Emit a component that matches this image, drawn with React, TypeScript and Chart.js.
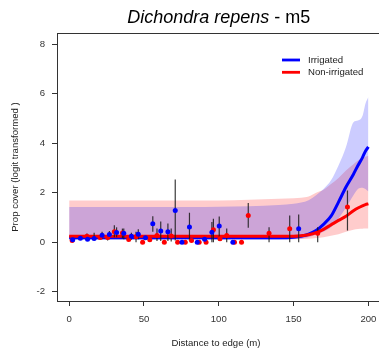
import { useEffect, useRef } from "react";
import { Chart, registerables } from "chart.js";

Chart.register(...registerables);

const FONT = '"Liberation Sans", Arial, Helvetica, sans-serif';

const xTicks = [0, 50, 100, 150, 200];
const yTicks = [-2, 0, 2, 4, 6, 8];

// Observed points – Irrigated (blue)
const blueX = [2.4, 7.5, 12.3, 16.7, 22.0, 26.9, 31.7, 36.5, 41.6, 46.2, 51.0, 55.9, 61.2, 66.0, 70.9, 75.4, 80.4, 85.6, 90.5, 95.4, 100.3, 109.4, 153.4];
const blueY = [0.10, 0.16, 0.12, 0.15, 0.28, 0.31, 0.39, 0.36, 0.24, 0.32, 0.18, 0.74, 0.45, 0.42, 1.28, 0.0, 0.61, 0.0, 0.12, 0.40, 0.65, 0.0, 0.54];
const blueLo = [null, null, null, 0.07, 0.12, 0.12, 0.2, 0.12, 0.1, 0.12, null, 0.42, 0.05, 0.05, 0.07, null, 0.04, null, null, 0.0, 0.07, null, 0.0];
const blueHi = [null, null, null, 0.38, 0.42, 0.45, 0.6, 0.55, 0.38, 0.52, null, 1.05, 0.84, 0.75, 2.53, null, 1.19, null, null, 0.82, 1.04, null, 1.12];

// Observed points – Non-irrigated (red)
const redX = [2.0, 11.9, 20.7, 25.7, 30.2, 35.6, 39.8, 44.7, 49.1, 53.9, 58.7, 63.6, 68.2, 72.5, 77.6, 81.8, 86.9, 91.5, 96.4, 100.8, 105.3, 110.5, 115.2, 119.7, 133.6, 147.4, 166.1, 186.0];
const redY = [0.07, 0.24, 0.19, 0.19, 0.42, 0.37, 0.11, 0.22, 0.0, 0.10, 0.27, 0.0, 0.25, 0.0, 0.0, 0.07, 0.0, 0.0, 0.50, 0.14, 0.27, 0.0, 0.0, 1.08, 0.36, 0.54, 0.36, 1.42];
const redLo = [null, 0.12, null, 0.07, 0.2, 0.15, null, 0.0, null, null, 0.05, null, 0.03, null, null, null, null, null, 0.0, null, 0.0, null, null, 0.58, 0.0, 0.0, 0.0, 0.47];
const redHi = [null, 0.35, null, 0.30, 0.68, 0.55, null, 0.42, null, null, 0.55, null, 0.55, null, null, null, null, null, 0.95, null, 0.55, null, null, 1.58, 0.60, 1.08, 0.60, 2.09];

// Fitted curves and confidence bands
const curveX = [0, 20, 40, 60, 80, 100, 120, 140, 150, 155, 160, 165, 170, 175, 180, 185, 190, 193, 196, 198, 200];
const blueFit = [0.18, 0.18, 0.18, 0.18, 0.18, 0.18, 0.18, 0.18, 0.2, 0.24, 0.32, 0.47, 0.72, 1.05, 1.62, 2.23, 2.75, 3.1, 3.42, 3.68, 3.85];
const blueUpper = [1.42, 1.42, 1.42, 1.42, 1.42, 1.43, 1.45, 1.5, 1.55, 1.6, 1.7, 1.9, 2.15, 2.5, 3.1, 3.85, 4.85, 4.92, 5.1, 5.6, 5.87];
const blueLower = [0.1, 0.1, 0.1, 0.1, 0.1, 0.1, 0.1, 0.1, 0.12, 0.14, 0.2, 0.3, 0.42, 0.6, 0.95, 1.4, 1.9, 2.15, 2.2, 2.15, 2.05];
const redFit = [0.24, 0.24, 0.24, 0.24, 0.24, 0.24, 0.24, 0.24, 0.24, 0.26, 0.3, 0.38, 0.52, 0.7, 0.88, 1.05, 1.27, 1.38, 1.47, 1.52, 1.55];
const redUpper = [1.69, 1.69, 1.69, 1.69, 1.69, 1.69, 1.72, 1.76, 1.78, 1.8, 1.85, 2.0, 2.12, 2.35, 2.6, 2.9, 3.15, 3.3, 3.4, 3.45, 3.5];
const redLower = [0.12, 0.12, 0.12, 0.12, 0.12, 0.12, 0.12, 0.12, 0.12, 0.13, 0.14, 0.17, 0.2, 0.26, 0.32, 0.42, 0.5, 0.53, 0.54, 0.55, 0.55];

const seriesNames = ["Irrigated", "Non-irrigated"];
const titleItalic = "Dichondra repens";
const titleRest = " - m5";
const xTitle = "Distance to edge (m)";
const yTitle = "Prop cover (logit transformed )";

const BLUE = "#0000ff";
const RED = "#ff0000";

export default function App() {
  const ref = useRef<HTMLCanvasElement>(null);

  useEffect(() => {
    const canvas = ref.current;
    if (!canvas) return;
    const xy = (xs: number[], ys: number[]) => xs.map((x, i) => ({ x, y: ys[i] }));

    const errPlugin = {
      id: "errbars",
      beforeDatasetDraw(chart: any, args: any) {
        if (args.index !== 1) return;
        const { ctx, scales } = chart;
        const sx = scales.x;
        const sy = scales.y;
        ctx.save();
        ctx.strokeStyle = "rgba(25,25,25,0.85)";
        ctx.lineWidth = 1.2;
        const draw = (xs: number[], lo: (number | null)[], hi: (number | null)[]) => {
          xs.forEach((v, i) => {
            if (lo[i] == null || hi[i] == null) return;
            const px = sx.getPixelForValue(v);
            ctx.beginPath();
            ctx.moveTo(px, sy.getPixelForValue(lo[i]));
            ctx.lineTo(px, sy.getPixelForValue(hi[i]));
            ctx.stroke();
          });
        };
        draw(blueX, blueLo, blueHi);
        draw(redX, redLo, redHi);
        ctx.restore();
      },
    };

    const decorPlugin = {
      id: "decor",
      afterDraw(chart: any) {
        const { ctx, chartArea, scales } = chart;
        ctx.save();
        // box
        ctx.strokeStyle = "#333";
        ctx.lineWidth = 1;
        ctx.strokeRect(chartArea.left + 0.5, chartArea.top + 0.5, chartArea.right + 10 - chartArea.left, chartArea.bottom - chartArea.top);
        // title
        const cx = scales.x.getPixelForValue(100);
        ctx.fillStyle = "#000";
        ctx.textBaseline = "alphabetic";
        ctx.font = `italic 18px ${FONT}`;
        const w1 = ctx.measureText(titleItalic).width;
        ctx.font = `18px ${FONT}`;
        const w2 = ctx.measureText(titleRest).width;
        const start = cx - (w1 + w2) / 2;
        ctx.font = `italic 18px ${FONT}`;
        ctx.textAlign = "left";
        ctx.fillText(titleItalic, start, 23);
        ctx.font = `18px ${FONT}`;
        ctx.fillText(titleRest, start + w1, 23);
        // legend
        const colors = [BLUE, RED];
        ctx.font = `9.6px ${FONT}`;
        seriesNames.forEach((name, i) => {
          const ly = 60 + i * 12.3;
          ctx.strokeStyle = colors[i];
          ctx.lineWidth = 2.8;
          ctx.beginPath();
          ctx.moveTo(282, ly);
          ctx.lineTo(300, ly);
          ctx.stroke();
          ctx.fillStyle = "#222";
          ctx.textBaseline = "middle";
          ctx.fillText(name, 308, ly + 0.5);
        });
        ctx.restore();
      },
    };

    const tickFont = { family: FONT, size: 9.6 };

    const chart = new Chart(canvas, {
      type: "line",
      data: {
        datasets: [
          {
            label: "Irrigated obs",
            data: xy(blueX, blueY),
            showLine: false,
            pointRadius: 2.5,
            pointBackgroundColor: BLUE,
            pointBorderWidth: 0,
            borderColor: BLUE,
          },
          {
            label: "Non-irrigated obs",
            data: xy(redX, redY),
            showLine: false,
            pointRadius: 2.5,
            pointBackgroundColor: RED,
            pointBorderWidth: 0,
            borderColor: RED,
          },
          {
            label: "Non-irrigated fit",
            data: xy(curveX, redFit),
            borderColor: RED,
            borderWidth: 3,
            pointRadius: 0,
            cubicInterpolationMode: "monotone",
            fill: false,
          },
          {
            label: "Irrigated fit",
            data: xy(curveX, blueFit),
            borderColor: BLUE,
            borderWidth: 3,
            pointRadius: 0,
            cubicInterpolationMode: "monotone",
            fill: false,
          },
          {
            label: "Irrigated upper",
            data: xy(curveX, blueUpper),
            borderColor: "transparent",
            borderWidth: 0,
            pointRadius: 0,
            cubicInterpolationMode: "monotone",
            backgroundColor: "rgba(0,0,255,0.2)",
            fill: "+1",
          },
          {
            label: "Irrigated lower",
            data: xy(curveX, blueLower),
            borderColor: "transparent",
            borderWidth: 0,
            pointRadius: 0,
            cubicInterpolationMode: "monotone",
            fill: false,
          },
          {
            label: "Non-irrigated upper",
            data: xy(curveX, redUpper),
            borderColor: "transparent",
            borderWidth: 0,
            pointRadius: 0,
            cubicInterpolationMode: "monotone",
            backgroundColor: "rgba(255,0,0,0.2)",
            fill: "+1",
          },
          {
            label: "Non-irrigated lower",
            data: xy(curveX, redLower),
            borderColor: "transparent",
            borderWidth: 0,
            pointRadius: 0,
            cubicInterpolationMode: "monotone",
            fill: false,
          },
        ],
      },
      options: {
        responsive: false,
        devicePixelRatio: 1,
        animation: false,
        layout: { padding: { top: 33, left: 0, right: 0, bottom: 0 } },
        plugins: {
          legend: { display: false },
          tooltip: { enabled: false },
          title: { display: false },
        },
        scales: {
          x: {
            type: "linear",
            min: -8.12,
            max: 204.4,
            afterBuildTicks: (s: any) => {
              s.ticks = xTicks.map((value) => ({ value }));
            },
            afterFit: (s: any) => {
              s.height = 53;
              s.paddingLeft = 0;
              s.paddingRight = 0;
            },
            ticks: { autoSkip: false, maxRotation: 0, font: tickFont, color: "#333", padding: 8 },
            grid: { drawOnChartArea: false, drawTicks: true, tickLength: 5, color: "#333" },
            border: { display: false },
            title: { display: true, text: xTitle, font: tickFont, color: "#222", padding: { top: 0, bottom: 5 } },
          },
          y: {
            type: "linear",
            min: -2.38,
            max: 8.46,
            afterBuildTicks: (s: any) => {
              s.ticks = yTicks.map((value) => ({ value }));
            },
            afterFit: (s: any) => {
              s.width = 57;
              s.paddingTop = 0;
              s.paddingBottom = 0;
            },
            ticks: { autoSkip: false, font: tickFont, color: "#333", padding: 7 },
            grid: { drawOnChartArea: false, drawTicks: true, tickLength: 5, color: "#333" },
            border: { display: false },
            title: { display: true, text: yTitle, font: tickFont, color: "#222", padding: { top: 10, bottom: 0 } },
          },
        },
      },
      plugins: [errPlugin, decorPlugin],
    } as any);

    return () => chart.destroy();
  }, []);

  return (
    <div style={{ position: "absolute", left: 0, top: 0, width: 379, height: 354, background: "#fff" }}>
      <canvas ref={ref} width={379} height={354} style={{ display: "block" }} />
    </div>
  );
}
